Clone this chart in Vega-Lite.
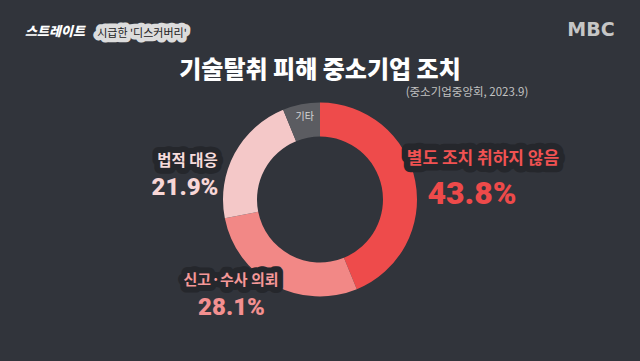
{
  "$schema": "https://vega.github.io/schema/vega-lite/v6.json",
  "width": 640,
  "height": 323,
  "autosize": "none",
  "padding": {"top": 38, "left": 0, "right": 0, "bottom": 0},
  "background": "#31343b",
  "config": {"view": {"stroke": null}, "text": {"font": "Noto Sans CJK KR"}},
  "data": {
    "values": [
      {"rank": 1, "category": "별도 조치 취하지 않음", "value": 43.8, "pct": "43.8%"},
      {"rank": 2, "category": "신고·수사 의뢰", "value": 28.1, "pct": "28.1%"},
      {"rank": 3, "category": "법적 대응", "value": 21.9, "pct": "21.9%"},
      {"rank": 4, "category": "기타", "value": 6.2, "pct": "6.2%"}
    ]
  },
  "layer": [
    {
      "mark": {"type": "arc", "innerRadius": 63, "outerRadius": 97},
      "encoding": {
        "theta": {"field": "value", "type": "quantitative", "stack": true},
        "order": {"field": "rank"},
        "color": {
          "field": "category",
          "type": "nominal",
          "scale": {
            "domain": ["별도 조치 취하지 않음", "신고·수사 의뢰", "법적 대응", "기타"],
            "range": ["#ee4b4b", "#f28886", "#f4c8c8", "#5b5c61"]
          },
          "legend": null
        }
      }
    },
    {
      "mark": {"type": "text", "radius": 84, "dx": 1, "fontSize": 10, "color": "#d6d6d6", "align": "center", "baseline": "middle"},
      "encoding": {
        "theta": {"field": "value", "type": "quantitative", "stack": true},
        "order": {"field": "rank"},
        "text": {"condition": {"test": "datum.rank === 4", "field": "category"}, "value": ""}
      }
    },
    {
      "mark": {"type": "text", "radius": 135, "dx": 30.5, "dy": -14.4, "fontSize": 17, "fontWeight": "bold", "color": "#25272c", "stroke": "#25272c", "strokeWidth": 13, "strokeJoin": "round", "align": "center", "baseline": "middle"},
      "encoding": {
        "theta": {"field": "value", "type": "quantitative", "stack": true},
        "order": {"field": "rank"},
        "text": {"condition": {"test": "datum.rank === 1", "field": "category"}, "value": ""}
      }
    },
    {
      "mark": {"type": "text", "radius": 135, "dx": 30.5, "dy": -14.4, "fontSize": 17, "fontWeight": "bold", "color": "#f05252", "align": "center", "baseline": "middle"},
      "encoding": {
        "theta": {"field": "value", "type": "quantitative", "stack": true},
        "order": {"field": "rank"},
        "text": {"condition": {"test": "datum.rank === 1", "field": "category"}, "value": ""}
      }
    },
    {
      "mark": {"type": "text", "radius": 135, "dx": 19.5, "dy": 20.6, "font": "Roboto", "fontSize": 32, "fontWeight": 900, "color": "#ee4a4a", "align": "center", "baseline": "middle"},
      "encoding": {
        "theta": {"field": "value", "type": "quantitative", "stack": true},
        "order": {"field": "rank"},
        "text": {"condition": {"test": "datum.rank === 1", "field": "pct"}, "value": ""}
      }
    },
    {
      "mark": {"type": "text", "radius": 135, "dx": -25, "dy": -38.4, "fontSize": 15, "fontWeight": "bold", "color": "#25272c", "stroke": "#25272c", "strokeWidth": 12, "strokeJoin": "round", "align": "center", "baseline": "middle"},
      "encoding": {
        "theta": {"field": "value", "type": "quantitative", "stack": true},
        "order": {"field": "rank"},
        "text": {"condition": {"test": "datum.rank === 2", "field": "category"}, "value": ""}
      }
    },
    {
      "mark": {"type": "text", "radius": 135, "dx": -25, "dy": -38.4, "fontSize": 15, "fontWeight": "bold", "color": "#f59898", "align": "center", "baseline": "middle"},
      "encoding": {
        "theta": {"field": "value", "type": "quantitative", "stack": true},
        "order": {"field": "rank"},
        "text": {"condition": {"test": "datum.rank === 2", "field": "category"}, "value": ""}
      }
    },
    {
      "mark": {"type": "text", "radius": 135, "dx": -24.6, "dy": -10.4, "font": "Roboto", "fontSize": 24, "fontWeight": 900, "color": "#f39090", "align": "center", "baseline": "middle"},
      "encoding": {
        "theta": {"field": "value", "type": "quantitative", "stack": true},
        "order": {"field": "rank"},
        "text": {"condition": {"test": "datum.rank === 2", "field": "pct"}, "value": ""}
      }
    },
    {
      "mark": {"type": "text", "radius": 135, "dx": -13.6, "dy": 25.4, "fontSize": 15.5, "fontWeight": "bold", "color": "#25272c", "stroke": "#25272c", "strokeWidth": 12, "strokeJoin": "round", "align": "center", "baseline": "middle"},
      "encoding": {
        "theta": {"field": "value", "type": "quantitative", "stack": true},
        "order": {"field": "rank"},
        "text": {"condition": {"test": "datum.rank === 3", "field": "category"}, "value": ""}
      }
    },
    {
      "mark": {"type": "text", "radius": 135, "dx": -13.6, "dy": 25.4, "fontSize": 15.5, "fontWeight": "bold", "color": "#f6dcdc", "align": "center", "baseline": "middle"},
      "encoding": {
        "theta": {"field": "value", "type": "quantitative", "stack": true},
        "order": {"field": "rank"},
        "text": {"condition": {"test": "datum.rank === 3", "field": "category"}, "value": ""}
      }
    },
    {
      "mark": {"type": "text", "radius": 135, "dx": -16.1, "dy": 52.9, "font": "Roboto", "fontSize": 24, "fontWeight": 900, "color": "#f7d6d6", "align": "center", "baseline": "middle"},
      "encoding": {
        "theta": {"field": "value", "type": "quantitative", "stack": true},
        "order": {"field": "rank"},
        "text": {"condition": {"test": "datum.rank === 3", "field": "pct"}, "value": ""}
      }
    },
    {
      "data": {"values": [{"label": "기술탈취 피해 중소기업 조치"}]},
      "mark": {"type": "text", "dy": -128.5, "fontSize": 24, "fontWeight": 900, "color": "#ffffff", "align": "center", "baseline": "middle"},
      "encoding": {"text": {"field": "label"}}
    },
    {
      "data": {"values": [{"label": "(중소기업중앙회, 2023.9)"}]},
      "mark": {"type": "text", "dx": 147, "dy": -106.5, "fontSize": 11.5, "color": "#c2c2c2", "align": "center", "baseline": "middle"},
      "encoding": {"text": {"field": "label"}}
    },
    {
      "data": {"values": [{"label": "MBC"}]},
      "mark": {"type": "text", "dx": 271, "dy": -169.5, "font": "DejaVu Sans", "fontSize": 19, "fontWeight": "bold", "color": "#c6c6c6", "align": "center", "baseline": "middle"},
      "encoding": {"text": {"field": "label"}}
    },
    {
      "data": {"values": [{"label": "스트레이트"}]},
      "mark": {"type": "text", "dx": -265, "dy": -167.5, "fontSize": 13, "fontWeight": 900, "fontStyle": "italic", "color": "#ffffff", "align": "center", "baseline": "middle"},
      "encoding": {"text": {"field": "label"}}
    },
    {
      "data": {"values": [{"label": "시급한 '디스커버리'"}]},
      "mark": {"type": "text", "dx": -178, "dy": -166, "fontSize": 11, "color": "#dcdcdc", "stroke": "#dcdcdc", "strokeWidth": 9, "strokeJoin": "round", "align": "center", "baseline": "middle"},
      "encoding": {"text": {"field": "label"}}
    },
    {
      "data": {"values": [{"label": "시급한 '디스커버리'"}]},
      "mark": {"type": "text", "dx": -178, "dy": -166, "fontSize": 11, "color": "#222222", "align": "center", "baseline": "middle"},
      "encoding": {"text": {"field": "label"}}
    }
  ]
}
